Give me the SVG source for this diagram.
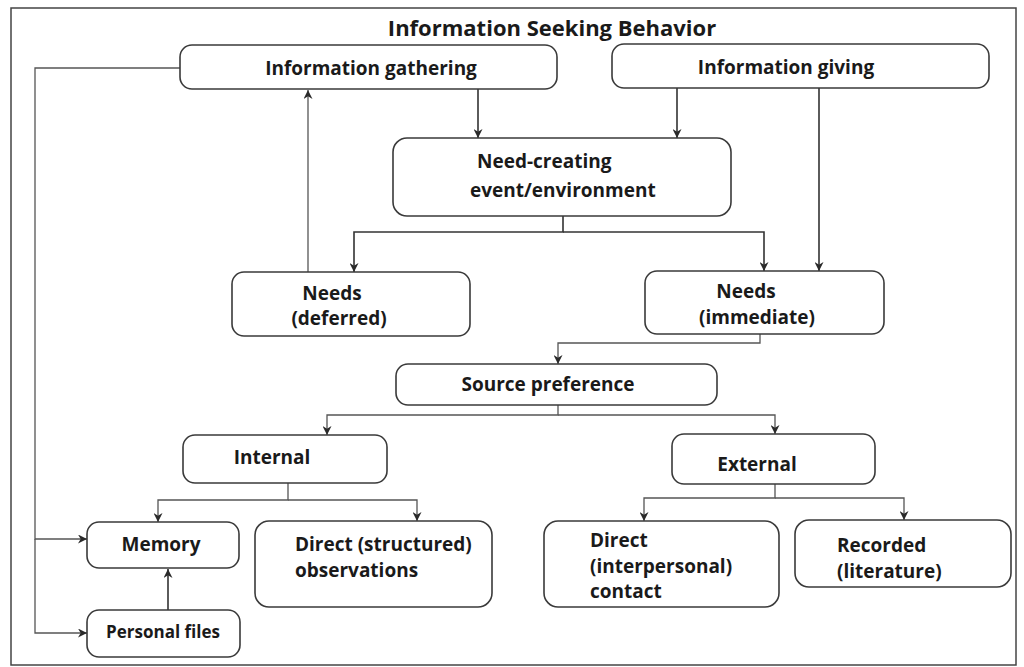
<svg xmlns="http://www.w3.org/2000/svg" width="1024" height="667" viewBox="0 0 1024 667">
<defs>
<marker id="ah" viewBox="0 0 10 10" refX="10" refY="5" markerWidth="9" markerHeight="9" markerUnits="userSpaceOnUse" orient="auto">
<path d="M0,0 L10,5 L0,10 L3,5 z" fill="#2a2a2a"/>
</marker>
</defs>
<style>
.box{fill:#ffffff;stroke:#3a3a3a;stroke-width:1.6}
.t{font-family:"Open Sans","Liberation Sans",sans-serif;font-weight:700;font-size:19px;fill:#1a1a1a}
.c{text-anchor:middle}
.ln{fill:none;stroke:#333;stroke-width:1.6}
.lt{fill:none;stroke:#555;stroke-width:1.3}
</style>
<rect x="0" y="0" width="1024" height="667" fill="#ffffff"/>
<rect x="11" y="8" width="1005" height="657" fill="none" stroke="#444" stroke-width="1.5"/>
<text class="t c" x="552" y="36" style="font-size:22px">Information Seeking Behavior</text>

<g id="connectors">
<path class="ln" d="M478,89 V138" marker-end="url(#ah)"/>
<path class="ln" d="M677,88 V138" marker-end="url(#ah)"/>
<path class="ln" d="M819,88 V271" marker-end="url(#ah)"/>
<path class="ln" d="M563,216 V232 H354 V272" marker-end="url(#ah)"/>
<path class="ln" d="M563,232 H764 V271" marker-end="url(#ah)"/>
<path class="lt" d="M308,272 V90" marker-end="url(#ah)"/>
<path class="lt" d="M760,334 V343 H558 V364" marker-end="url(#ah)"/>
<path class="lt" d="M558,405 V415 H327 V435" marker-end="url(#ah)"/>
<path class="lt" d="M558,415 H775 V434" marker-end="url(#ah)"/>
<path class="lt" d="M288,483 V500 H158 V522" marker-end="url(#ah)"/>
<path class="lt" d="M288,500 H417 V521" marker-end="url(#ah)"/>
<path class="lt" d="M775,484 V498 H644 V521" marker-end="url(#ah)"/>
<path class="lt" d="M775,498 H904 V520" marker-end="url(#ah)"/>
<path class="ln" d="M168,610 V569" marker-end="url(#ah)"/>
<path class="lt" d="M180,68 H35 V539 H87" marker-end="url(#ah)"/>
<path class="lt" d="M35,539 V633 H87" marker-end="url(#ah)"/>
</g>

<g id="info-gathering">
<rect class="box" x="180" y="45" width="377" height="44" rx="12"/>
<text class="t c" x="371" y="75">Information gathering</text>
</g>
<g id="info-giving">
<rect class="box" x="612" y="44" width="377" height="44" rx="12"/>
<text class="t c" x="786" y="74">Information giving</text>
</g>
<g id="need-creating">
<rect class="box" x="393" y="138" width="338" height="78" rx="14"/>
<text class="t" x="477" y="168">Need-creating</text>
<text class="t" x="470" y="197">event/environment</text>
</g>
<g id="needs-deferred">
<rect class="box" x="232" y="272" width="238" height="64" rx="12"/>
<text class="t c" x="332" y="300">Needs</text>
<text class="t c" x="339" y="325">(deferred)</text>
</g>
<g id="needs-immediate">
<rect class="box" x="645" y="271" width="239" height="63" rx="12"/>
<text class="t c" x="746" y="298">Needs</text>
<text class="t c" x="757" y="324">(immediate)</text>
</g>
<g id="source-preference">
<rect class="box" x="396" y="364" width="321" height="41" rx="12"/>
<text class="t c" x="548" y="391">Source preference</text>
</g>
<g id="internal">
<rect class="box" x="183" y="435" width="204" height="48" rx="12"/>
<text class="t c" x="272" y="464">Internal</text>
</g>
<g id="external">
<rect class="box" x="672" y="434" width="203" height="50" rx="12"/>
<text class="t c" x="757" y="471">External</text>
</g>
<g id="memory">
<rect class="box" x="87" y="522" width="152" height="46" rx="12"/>
<text class="t c" x="161" y="551">Memory</text>
</g>
<g id="direct-structured">
<rect class="box" x="255" y="521" width="237" height="86" rx="14"/>
<text class="t" x="295" y="551">Direct (structured)</text>
<text class="t" x="295" y="577">observations</text>
</g>
<g id="personal-files">
<rect class="box" x="87" y="610" width="153" height="47" rx="12"/>
<text class="t c" x="163" y="638" style="font-size:17px">Personal files</text>
</g>
<g id="direct-interpersonal">
<rect class="box" x="544" y="521" width="235" height="86" rx="14"/>
<text class="t" x="590" y="547">Direct</text>
<text class="t" x="590" y="573">(interpersonal)</text>
<text class="t" x="590" y="598">contact</text>
</g>
<g id="recorded">
<rect class="box" x="795" y="520" width="216" height="67" rx="14"/>
<text class="t" x="837" y="552">Recorded</text>
<text class="t" x="837" y="578">(literature)</text>
</g>
</svg>
